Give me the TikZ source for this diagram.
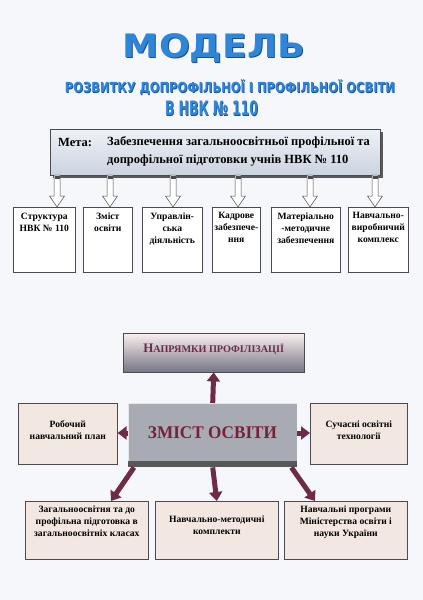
\documentclass[tikz,border=0pt]{standalone}
\usepackage{fontspec}
\setmainfont{Liberation Serif}
\newfontfamily\titlefont{DejaVu Sans}
\usepackage{graphicx}
\usetikzlibrary{arrows.meta,calc,shadows}
\definecolor{bgc}{HTML}{F6F7FB}
\definecolor{tblue}{HTML}{2F86D8}
\definecolor{tdark}{HTML}{1A4F95}
\definecolor{maroon}{HTML}{6E2B47}
\definecolor{beige}{HTML}{F2E7E1}
\definecolor{edge}{HTML}{4A4A50}
\definecolor{coregray}{HTML}{A8ABB3}
\definecolor{metatop}{HTML}{EEF2F8}
\definecolor{metabot}{HTML}{CBD3DF}
\tikzset{
  titletxt/.style={inner sep=0pt, text=tblue, font=\titlefont\bfseries},
  titleshadow/.style={inner sep=0pt, text=tdark, font=\titlefont\bfseries},
  topbox/.style={draw=edge, fill=white, line width=0.6pt, minimum width=#1, minimum height=65pt,
    inner sep=0pt, anchor=north west},
  toptext/.style={anchor=north, inner sep=0pt, align=center, font=\bfseries\fontsize{9.6}{12}\selectfont},
  sidebox/.style={draw=edge, fill=beige, line width=0.6pt, anchor=north west, inner sep=0pt,
    drop shadow={shadow xshift=1pt, shadow yshift=-1pt, fill=gray!60}},
  boxtext/.style={font=\bfseries\fontsize{9.6}{12}\selectfont, align=center, inner sep=0pt},
  redarrow/.style={draw=maroon, line width=5pt, -{Triangle[width=13pt,length=9pt]}},
  hollow/.style={draw=edge, fill=white, line width=0.5pt}
}
\begin{document}
\begin{tikzpicture}[x=1pt,y=-1pt]
\useasboundingbox (0,0) rectangle (423,600);
\fill[bgc] (0,0) rectangle (423,600);

% titles
\node[titleshadow] at (215,48.8) {\resizebox*{182pt}{29pt}{МОДЕЛЬ}};
\node[titletxt] (t1) at (214,47.8) {\resizebox*{182pt}{29pt}{МОДЕЛЬ}};
\node[titleshadow] at (230.7,88.3) {\resizebox*{330pt}{15pt}{РОЗВИТКУ ДОПРОФІЛЬНОЇ І ПРОФІЛЬНОЇ ОСВІТИ}};
\node[titletxt] (t2) at (230,87.5) {\resizebox*{330pt}{15pt}{РОЗВИТКУ ДОПРОФІЛЬНОЇ І ПРОФІЛЬНОЇ ОСВІТИ}};
\node[titleshadow] at (212.2,109.3) {\resizebox*{93pt}{15pt}{В НВК № 110}};
\node[titletxt] (t3) at (211.5,108.5) {\resizebox*{93pt}{15pt}{В НВК № 110}};

% goal box
\fill[gray!70!black] (53,132) rectangle (383,178);
\shade[top color=metatop, bottom color=metabot, draw=edge, line width=0.7pt]
  (50,129) rectangle (380,175);
\node[draw=none, minimum width=330pt, minimum height=46pt, anchor=north west, inner sep=0pt] (meta) at (50,129) {};
\node[anchor=base west, inner sep=0pt, font=\bfseries\fontsize{12.5}{18}\selectfont] (metal) at (58,146) {Мета:};
\node[anchor=north west, inner sep=0pt, align=left, font=\bfseries\fontsize{12.5}{18}\selectfont] (metat) at (107,136.5)
  {Забезпечення загальноосвітньої профільної та\\допрофільної підготовки учнів НВК № 110};

% top boxes
\node[topbox=62pt] (b1) at (13,207) {};
\node[topbox=49pt] (b2) at (83,207) {};
\node[topbox=60pt] (b3) at (142,207) {};
\node[topbox=48pt] (b4) at (212,207) {};
\node[topbox=69pt] (b5) at (271,207) {};
\node[topbox=60pt] (b6) at (348,207) {};
\node[toptext] at ($(b1.north)+(0,5.5)$) {Структура\\НВК № 110};
\node[toptext] at ($(b2.north)+(0,5.5)$) {Зміст\\освіти};
\node[toptext] at ($(b3.north)+(0,5.5)$) {Управлін-\\ська\\діяльність};
\node[toptext] at ($(b4.north)+(0,5.5)$) {Кадрове\\забезпече-\\ння};
\node[toptext] at ($(b5.north)+(0,5.5)$) {Матеріально\\-методичне\\забезпечення};
\node[toptext] at ($(b6.north)+(0,5.5)$) {Навчально-\\виробничий\\комплекс};

% hollow arrows
\foreach \i/\xx in {1/57,2/110,3/173,4/238,5/310,6/375}{
  \coordinate (a\i) at (\xx,175);
  \path let \p1=(a\i), \p2=(a\i |- b\i.north) in
    [hollow] (\x1-3pt,\y1) -- (\x1+3pt,\y1) -- (\x1+3pt,\y2+11pt) -- (\x1+7.5pt,\y2+11pt) -- (\x1,\y2)
      -- (\x1-7.5pt,\y2+11pt) -- (\x1-3pt,\y2+11pt) -- cycle;
  \fill[edge] ($(a\i)+(-2.5,0.8)$) rectangle ($(a\i)+(2.5,4)$);
}

% directions box
\shade[top color=white!85!gray!60!pink!40, bottom color=gray!70!blue!30!black!60, draw=edge, line width=0.6pt]
  (123,333) rectangle (304,372);
\node[minimum width=181pt, minimum height=39pt, anchor=north west, inner sep=0pt] (dir) at (123,333) {};
\node[text=maroon, inner sep=0pt, font=\bfseries] at ($(dir.center)+(0,-3)$)
  {{\fontsize{13}{14}\selectfont Н}{\fontsize{10.2}{12}\selectfont АПРЯМКИ ПРОФІЛІЗАЦІЇ}};

% central box
\fill[gray!45!black!85] (128,461) rectangle (297,467);
\fill[coregray] (128,403) rectangle (297,461);
\draw[white!70!coregray, line width=0.8pt] (128.5,461) -- (128.5,403.5) -- (296.5,403.5);
\node[minimum width=169pt, minimum height=64pt, anchor=north west, inner sep=0pt] (core) at (128,403) {};
\node[text=maroon!85!red!90!black, inner sep=0pt] at (212.5,432.5) {\resizebox*{129pt}{12pt}{\bfseries ЗМІСТ ОСВІТИ}};

% side boxes
\node[sidebox, minimum width=99pt, minimum height=61pt] (lb) at (18,403) {};
\node[boxtext] at ($(lb.north)+(0,27)$) {Робочий\\навчальний план};
\node[sidebox, minimum width=97pt, minimum height=61pt] (rb) at (310,403) {};
\node[boxtext] at ($(rb.north)+(0,27)$) {Сучасні освітні\\технології};

\node[sidebox, minimum width=123pt, minimum height=58pt] (bl) at (25,501) {};
\node[boxtext, anchor=north] at ($(bl.north)+(0,5)$) {Загальноосвітня та до\\профільна підготовка в\\загальноосвітніх класах};
\node[sidebox, minimum width=123pt, minimum height=58pt] (bm) at (155,501) {};
\node[boxtext, anchor=north] at ($(bm.north)+(0,15)$) {Навчально-методичні\\комплекти};
\node[sidebox, minimum width=123pt, minimum height=58pt] (br) at (284,501) {};
\node[boxtext, anchor=north] at ($(br.north)+(0,5)$) {Навчальні програми\\Міністерства освіти і\\науки України};

% maroon arrows
\draw[redarrow] (core.north) -- (dir.south);
\draw[redarrow] (core.west |- 0,433) -- (lb.east |- 0,433);
\draw[redarrow] (core.east |- 0,433) -- (rb.west |- 0,433);
\draw[redarrow] (core.south) -- (bm.north);
\draw[redarrow] ($(core.south west)+(6,0)$) -- (bl.north -| 111,0);
\draw[redarrow] ($(core.south east)+(-6,0)$) -- (br.north -| 315,0);
\end{tikzpicture}
\end{document}
